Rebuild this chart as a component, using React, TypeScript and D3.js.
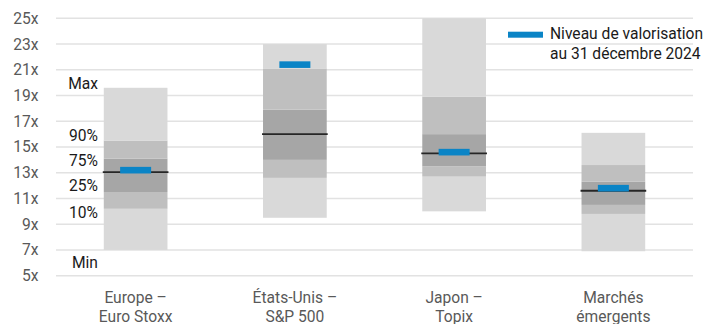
import React, { useEffect } from "react";
import * as d3 from "d3";

const categories = [["Europe –", "Euro Stoxx"], ["États-Unis –", "S&P 500"], ["Japon –", "Topix"], ["Marchés", "émergents"]];
const minV = [7.0, 9.5, 10.0, 6.9];
const p10 = [10.2, 12.6, 12.7, 9.8];
const p25 = [11.5, 14.0, 13.5, 10.5];
const median = [13.05, 16.0, 14.5, 11.6];
const p75 = [14.1, 17.9, 16.0, 12.3];
const p90 = [15.5, 21.1, 18.9, 13.6];
const maxV = [19.6, 23.0, 25.0, 16.1];
const current = [13.2, 21.4, 14.6, 11.8];
const yTicks = [5, 7, 9, 11, 13, 15, 17, 19, 21, 23, 25];
const bandLabels = ["Max", "90%", "75%", "25%", "10%", "Min"];
const bandLabelPos = [19.9, 15.9, 13.95, 11.97, 9.9, 6.0];
const legendLines = ["Niveau de valorisation", "au 31 décembre 2024"];

const W = 708, H = 324;
const M = { left: 56, right: 15, top: 18.3, bottom: 48.3 };

export default function App() {
  useEffect(() => { document.body.style.margin = "0"; }, []);
  const x = d3.scaleBand<number>().domain(d3.range(categories.length)).range([M.left, W - M.right]).paddingInner(0.6).paddingOuter(0.3);
  const y = d3.scaleLinear().domain([5, 25]).range([H - M.bottom, M.top]);
  const font = "Roboto, 'Noto Sans', sans-serif";
  const fs = 15.6;
  const segs = (i: number) => [
    { lo: minV[i], hi: p10[i], c: "#d9d9d9" },
    { lo: p10[i], hi: p25[i], c: "#bfbfbf" },
    { lo: p25[i], hi: p75[i], c: "#a6a6a6" },
    { lo: p75[i], hi: p90[i], c: "#bfbfbf" },
    { lo: p90[i], hi: maxV[i], c: "#d9d9d9" },
  ];
  const bw = x.bandwidth();
  return (
    <svg width={W} height={H} style={{ display: "block", fontFamily: font }}>
      {yTicks.map((t) => (
        <g key={t}>
          <line x1={M.left} x2={W - M.right} y1={y(t)} y2={y(t)} stroke="#e2e2e2" strokeWidth={1.5} />
          <text x={38.5} y={y(t)} dy="0.35em" textAnchor="end" fontSize={fs} fill="#595959">{t}x</text>
        </g>
      ))}
      {categories.map((c, i) => {
        const x0 = x(i)!;
        const cx = x0 + bw / 2;
        return (
          <g key={i}>
            {segs(i).map((s, k) => (
              <rect key={k} x={x0} width={bw} y={y(s.hi)} height={y(s.lo) - y(s.hi)} fill={s.c} />
            ))}
            <line x1={x0 - 1} x2={x0 + bw + 1} y1={y(median[i])} y2={y(median[i])} stroke="#262626" strokeWidth={1.8} />
            <rect x={cx - 15.5} width={31} y={y(current[i]) - 3.3} height={6.6} fill="#0a84c6" />
            {c.map((line, j) => (
              <text key={j} x={cx} y={303 + j * 18.5} textAnchor="middle" fontSize={fs} fill="#595959">{line}</text>
            ))}
          </g>
        );
      })}
      {bandLabels.map((l, k) => (
        <text key={l} x={98} y={y(bandLabelPos[k])} dy="0.35em" textAnchor="end" fontSize={fs} fill="#1a1a1a">{l}</text>
      ))}
      <rect x={508} y={31.7} width={35} height={6} fill="#0a84c6" />
      {legendLines.map((l, j) => (
        <text key={j} x={550} y={38.5 + j * 20} fontSize={fs} fill="#1a1a1a">{l}</text>
      ))}
    </svg>
  );
}
